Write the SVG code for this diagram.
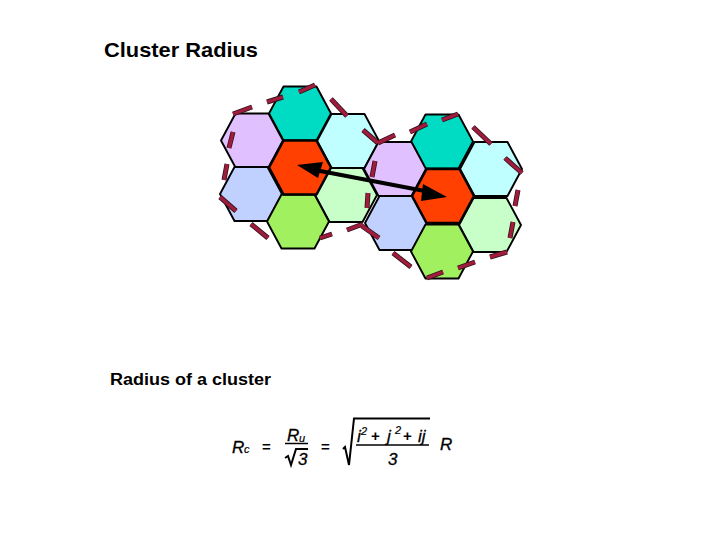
<svg xmlns="http://www.w3.org/2000/svg" width="720" height="540" viewBox="0 0 720 540">
<style>
.hex{stroke:#000;stroke-width:1.9;stroke-linejoin:round}
.red{fill:#ff4000;stroke-width:2.6}.teal{fill:#00dcc4}.cyan{fill:#c0ffff}.lilac{fill:#e0c0ff}.blue{fill:#c0d0ff}.mint{fill:#c8ffc8}.lime{fill:#a0f060}
.tickO{stroke:#30141c;stroke-width:5;fill:none}
.tick{stroke:#a01c3c;stroke-width:3.4;fill:none}
text{font-family:"Liberation Sans",Arial,sans-serif;fill:#000}
.b{font-weight:bold}
.i{font-style:italic;font-size:17px;stroke:#000;stroke-width:.3}
.s{font-style:italic;font-size:11px;stroke:#000;stroke-width:.2}
.o{font-weight:bold;font-size:15px}
.rule{stroke:#000;fill:none}
</style>
<defs>
<polygon id="h" points="-31,0 -16.5,-27 16.5,-27 31,0 16.5,27 -16.5,27"/>
</defs>
<rect width="720" height="540" fill="#fff"/>
<text id="title" class="b" x="104" y="57" font-size="20.5" textLength="154" lengthAdjust="spacingAndGlyphs">Cluster Radius</text>
<g id="cluster-left">
<use href="#h" x="300" y="113.5" class="hex teal"/>
<use href="#h" x="252" y="140.5" class="hex lilac"/>
<use href="#h" x="348" y="141" class="hex cyan"/>
<use href="#h" x="251" y="194" class="hex blue"/>
<use href="#h" x="346" y="195" class="hex mint"/>
<use href="#h" x="298" y="221.5" class="hex lime"/>
<use href="#h" x="300" y="167.5" class="hex red"/>
</g>
<g id="cluster-right">
<use href="#h" x="442" y="141.5" class="hex teal"/>
<use href="#h" x="395" y="169" class="hex lilac"/>
<use href="#h" x="491" y="169" class="hex cyan"/>
<use href="#h" x="396" y="223" class="hex blue"/>
<use href="#h" x="490" y="225" class="hex mint"/>
<use href="#h" x="442" y="251.5" class="hex lime"/>
<use href="#h" x="443" y="196" class="hex red"/>
</g>
<g id="ticks">
<path class="tickO" d="M233 114L252 107M267 102L283 97M299 92L315 85M331 99L347 116M363 130L378 143M233 132L229 148M227 164L224 180M220 197L236 211M251 224L268 238M320 238L332 234M347 230L363 224M368 193L367 208M378 143L395 135M375 161L372 177M362 226L379 238M393 253L411 267M410 132L427 124M442 120L458 114M473 127L491 144M505 158L522 173M518 190L515 206M513 222L510 238M490 257L507 252M458 268L475 262M427 278L443 272"/>
<path class="tick" d="M233 114L252 107M267 102L283 97M299 92L315 85M331 99L347 116M363 130L378 143M233 132L229 148M227 164L224 180M220 197L236 211M251 224L268 238M320 238L332 234M347 230L363 224M368 193L367 208M378 143L395 135M375 161L372 177M362 226L379 238M393 253L411 267M410 132L427 124M442 120L458 114M473 127L491 144M505 158L522 173M518 190L515 206M513 222L510 238M490 257L507 252M458 268L475 262M427 278L443 272"/>
</g>
<g id="connectors">
<line x1="315" y1="170" x2="430" y2="192" stroke="#000" stroke-width="4"/>
<polygon points="297,165 323,162 318,178" fill="#000"/>
<polygon points="447,197 423,184 421,201" fill="#000"/>
</g>
<text id="caption" class="b" x="110" y="385" font-size="16" textLength="161" lengthAdjust="spacingAndGlyphs">Radius of a cluster</text>
<g id="formula">
<text class="i" x="232" y="453">R</text><text class="s" x="244" y="453">c</text>
<text class="o" x="262" y="452">=</text>
<text class="i" x="287" y="441">R</text><text class="s" x="299" y="442">u</text>
<line class="rule" x1="285" y1="443.5" x2="308" y2="443.5" stroke-width="1.5"/>
<path class="rule" d="M285 458L288 456L291 465L296 449H308" stroke-width="2"/>
<text class="i" x="298" y="465">3</text>
<text class="o" x="321" y="452">=</text>
<path class="rule" d="M343 449L345 447L349 465L354 418.5H430" stroke-width="2"/>
<text class="i" x="357" y="442">i</text><text class="s" x="361" y="435">2</text>
<text class="o" x="371" y="441">+</text>
<text class="i" x="387" y="442">j</text><text class="s" x="395" y="434">2</text>
<text class="o" x="403" y="441">+</text>
<text class="i" x="418" y="442">ij</text>
<line class="rule" x1="356" y1="445" x2="429" y2="445" stroke-width="1.6"/>
<text class="i" x="388" y="465">3</text>
<text class="i" x="440" y="450">R</text>
</g>
</svg>
